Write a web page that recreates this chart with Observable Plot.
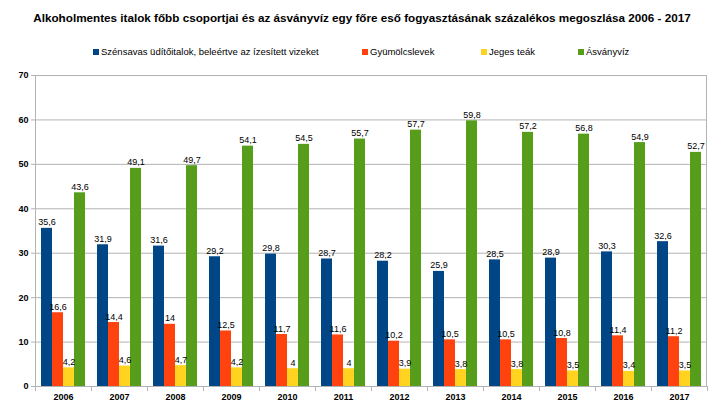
<!DOCTYPE html>
<html>
<head>
<meta charset="utf-8">
<script src="https://cdn.jsdelivr.net/npm/d3@7"></script>
<script src="https://cdn.jsdelivr.net/npm/@observablehq/plot@0.6"></script>
<style>
  html, body { margin: 0; padding: 0; background: #fff; }
  #wrap { position: relative; width: 724px; height: 411px; overflow: hidden; font-family: "Liberation Sans", Arial, sans-serif; }
  #title { position: absolute; left: 0; top: 11px; width: 724px; text-align: center; font-weight: bold; font-size: 11.7px; color: #000; }
  .leg { position: absolute; top: 46px; font-size: 9.5px; color: #000; white-space: nowrap; }
  .leg span.sw { display: inline-block; width: 6px; height: 6px; margin-right: 2px; vertical-align: 0px; }
  #chart { position: absolute; left: 0; top: 0; }
</style>
</head>
<body>
<div id="wrap">
  <div id="chart"></div>
  <div id="title">Alkoholmentes italok főbb csoportjai és az ásványvíz egy főre eső fogyasztásának százalékos megoszlása 2006 - 2017</div>
</div>
<script>
const years = [2006, 2007, 2008, 2009, 2010, 2011, 2012, 2013, 2014, 2015, 2016, 2017];
const seriesNames = ["Szénsavas üdítőitalok, beleértve az ízesített vizeket", "Gyümölcslevek", "Jeges teák", "Ásványvíz"];
const seriesColors = ["#004586", "#ff420e", "#ffd320", "#579d1c"];
const szensavas = [35.6, 31.9, 31.6, 29.2, 29.8, 28.7, 28.2, 25.9, 28.5, 28.9, 30.3, 32.6];
const gyumolcslevek = [16.6, 14.4, 14, 12.5, 11.7, 11.6, 10.2, 10.5, 10.5, 10.8, 11.4, 11.2];
const jegesTeak = [4.2, 4.6, 4.7, 4.2, 4, 4, 3.9, 3.8, 3.8, 3.5, 3.4, 3.5];
const asvanyviz = [43.6, 49.1, 49.7, 54.1, 54.5, 55.7, 57.7, 59.8, 57.2, 56.8, 54.9, 52.7];
const yTicks = [0, 10, 20, 30, 40, 50, 60, 70];

const seriesValues = [szensavas, gyumolcslevek, jegesTeak, asvanyviz];
const data = [];
years.forEach((yr, i) => {
  seriesNames.forEach((s, j) => data.push({year: yr, series: s, value: seriesValues[j][i]}));
});
const fmt = v => String(v).replace(".", ",");

const chart = Plot.plot({
  width: 724,
  height: 411,
  marginTop: 75,
  marginBottom: 25,
  marginLeft: 31,
  marginRight: 14,
  style: {fontFamily: "Liberation Sans, Arial, sans-serif", fontSize: "9px", color: "#000", background: "transparent"},
  fx: {domain: years, padding: 0, label: null, tickSize: 0, tickPadding: 7, axis: "bottom", tickFormat: d => String(d)},
  x: {domain: seriesNames, paddingInner: 0, paddingOuter: 0.48, axis: null},
  y: {domain: [0, 70], ticks: yTicks, tickSize: 4, tickPadding: 3, label: null, tickFormat: d => String(d)},
  color: {domain: seriesNames, range: seriesColors},
  marks: [
    Plot.ruleY(yTicks, {stroke: "#b3b3b3", strokeWidth: 1}),
    Plot.barY(data, {fx: "year", x: "series", y: "value", fill: "series"}),
    Plot.text(data, {fx: "year", x: "series", y: "value", text: d => fmt(d.value), lineAnchor: "bottom", dy: -3, fill: "#000", fontSize: 9})
  ]
});

document.getElementById("chart").appendChild(chart);

// styling & frame details via library scales
const svg = d3.select(chart);
svg.selectAll("[aria-label='fx-axis tick label'] text, [aria-label='fx-axis'] text, [aria-label='y-axis tick label'] text, [aria-label='y-axis'] text")
  .attr("font-weight", "bold");
svg.selectAll("[aria-label='y-axis tick'] path, [aria-label='y-axis'] path").attr("stroke", "#b3b3b3");

const fxS = chart.scale("fx");
const yS = chart.scale("y");
const y0 = yS.apply(0), yTop = yS.apply(70);
const bounds = years.map(y => fxS.apply(y));
bounds.push(fxS.apply(years[years.length - 1]) + fxS.bandwidth);
const g = svg.append("g").attr("stroke", "#b3b3b3").attr("stroke-width", 1);
bounds.forEach(b => {
  g.append("line").attr("x1", b + 0.5).attr("x2", b + 0.5).attr("y1", y0).attr("y2", y0 + 5);
});
g.append("line").attr("x1", bounds[0] + 0.5).attr("x2", bounds[0] + 0.5).attr("y1", yTop).attr("y2", y0);
g.append("line").attr("x1", bounds[bounds.length - 1] - 0.5).attr("x2", bounds[bounds.length - 1] - 0.5).attr("y1", yTop).attr("y2", y0);

// legend
const legendLeft = [93, 362, 481, 578];
const wrap = document.getElementById("wrap");
seriesNames.forEach((s, i) => {
  const d = document.createElement("div");
  d.className = "leg";
  d.style.left = legendLeft[i] + "px";
  d.innerHTML = `<span class="sw" style="background:${seriesColors[i]}"></span>${s}`;
  wrap.appendChild(d);
});
</script>
</body>
</html>
